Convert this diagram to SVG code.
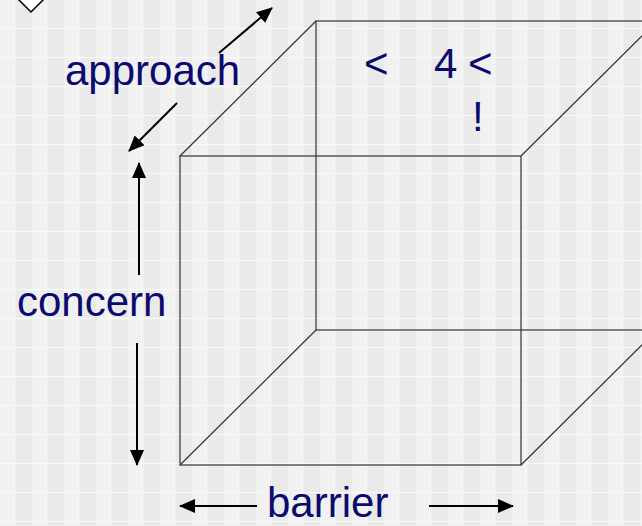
<svg xmlns="http://www.w3.org/2000/svg" width="642" height="526" viewBox="0 0 642 526">
<style>
.lbl{font-family:"Liberation Sans",Arial,sans-serif;font-size:42px;fill:#0b0b6e}
.edge{stroke:#333;stroke-width:1.2;fill:none}
.arr{stroke:#000;stroke-width:2;fill:none;marker-end:url(#ah)}
</style>
<defs>
<marker id="ah" viewBox="0 0 16 14" refX="15" refY="7" markerWidth="16" markerHeight="14" markerUnits="userSpaceOnUse" orient="auto">
<path d="M0,0 L16,7 L0,14 Z" fill="#000"/>
</marker>
<pattern id="bg" width="32" height="29" patternUnits="userSpaceOnUse">
<rect width="32" height="29" fill="#f1f1f1"/>
<rect x="16" width="16" height="29" fill="#eaeaea"/>
<rect y="28" width="32" height="1" fill="#fafafa"/>
<rect x="13" width="1" height="29" fill="#f8f8f8"/>
</pattern>
</defs>
<rect width="642" height="526" fill="url(#bg)"/>
<g id="diamond">
<polygon points="31,-14 44,-1 31,12 18,-1" fill="#fff" stroke="#000" stroke-width="1.5"/>
</g>
<g id="cube">
<rect x="316" y="21" width="341" height="309" class="edge"/>
<rect x="180" y="156" width="341" height="309" class="edge"/>
<line x1="180" y1="156" x2="316" y2="21" class="edge"/>
<line x1="521" y1="156" x2="657" y2="21" class="edge"/>
<line x1="180" y1="465" x2="316" y2="330" class="edge"/>
<line x1="521" y1="465" x2="657" y2="330" class="edge"/>
</g>
<g id="connectors">
<line x1="219" y1="53" x2="272" y2="8" class="arr"/>
<line x1="177" y1="103" x2="129" y2="151" class="arr"/>
<line x1="139" y1="275" x2="139" y2="163" class="arr"/>
<line x1="137" y1="343" x2="137" y2="465" class="arr"/>
<line x1="257" y1="506" x2="180" y2="506" class="arr"/>
<line x1="429" y1="506" x2="513" y2="506" class="arr"/>
</g>
<g id="labels">
<text class="lbl" x="65" y="85">approach</text>
<text class="lbl" x="17" y="316">concern</text>
<text class="lbl" x="267" y="517">barrier</text>
<text class="lbl" y="78"><tspan x="364">&lt;</tspan><tspan x="434">4</tspan><tspan x="468">&lt;</tspan></text>
<text class="lbl" x="472" y="131">!</text>
</g>
</svg>
